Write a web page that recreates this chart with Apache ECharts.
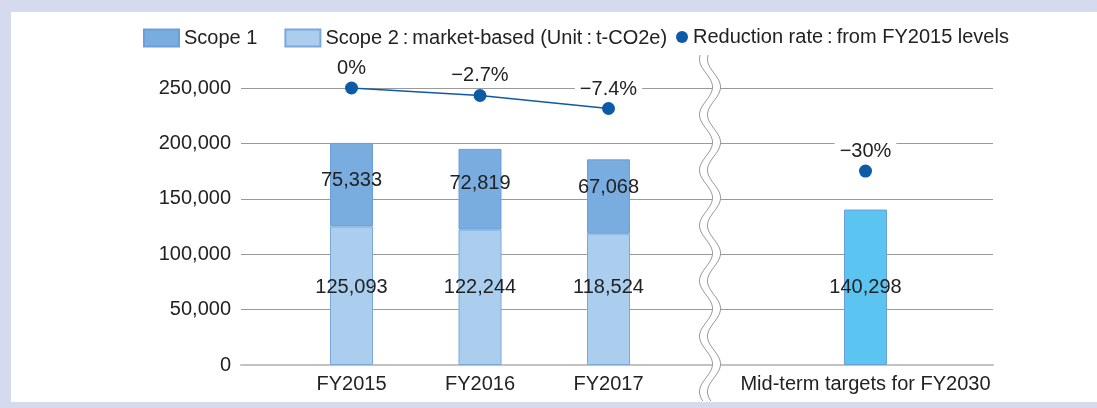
<!DOCTYPE html>
<html>
<head>
<meta charset="utf-8">
<script src="https://cdn.jsdelivr.net/npm/echarts@6/dist/echarts.min.js"></script>
<style>
  html, body { margin: 0; padding: 0; background: #d5daee; }
  #panel { position: absolute; left: 11px; top: 12px; width: 1086px; height: 390px; background: #fff; }
  #chart { position: absolute; left: 0; top: 0; width: 1097px; height: 408px; }
</style>
</head>
<body>
<div id="panel"></div>
<div id="chart"></div>
<script>
// categories and values
const categories = ["FY2015", "FY2016", "FY2017", "", "Mid-term targets for FY2030"];
const scope1 = [75333, 72819, 67068, null, null];
const scope2 = [125093, 122244, 118524, null, null];
const target = [null, null, null, null, 140298];
const reductionRate = [0, -2.7, -7.4, null, -30];
const yTicks = [0, 50000, 100000, 150000, 200000, 250000];

const rateName = "Reduction rate\u2009:\u2009from FY2015 levels";
const scope2Text = "Scope 2\u2009:\u2009market-based (Unit\u2009:\u2009t-CO2e)";
const font = "'Liberation Sans', Arial, sans-serif";
const textColor = "#222";
const commas = v => echarts.format.addCommas(v);

const chart = echarts.init(document.getElementById("chart"), null, { renderer: "canvas" });

// wavy break between FY2017 and FY2030
function wave(offset) {
  const pts = [];
  for (let y = 55; y <= 401; y += 1) {
    pts.push([710 + offset + 6.5 * Math.cos((2 * Math.PI * (y - 87)) / 55.4), y]);
  }
  return pts;
}
const waveL = wave(-4);
const waveR = wave(4);

chart.setOption({
  backgroundColor: "transparent",
  textStyle: { fontFamily: font, color: textColor },
  legend: [
    {
      data: ["Scope 1", "Scope 2"],
      left: 143,
      top: 28,
      padding: 0,
      icon: "rect",
      itemWidth: 35,
      itemHeight: 17,
      itemGap: 27,
      textStyle: { fontSize: 20, color: textColor, fontFamily: font },
      formatter: name => (name === "Scope 2" ? scope2Text : name),
      selectedMode: false
    },
    {
      data: [rateName],
      left: 676,
      top: 27,
      padding: 0,
      icon: "circle",
      itemWidth: 12,
      itemHeight: 12,
      textStyle: { fontSize: 20, color: textColor, fontFamily: font },
      selectedMode: false
    }
  ],
  grid: [
    { left: 241, right: 104, top: 88, bottom: 43 },
    { left: 287.25, width: 642.5, top: 88, bottom: 43 }
  ],
  xAxis: [
    {
      gridIndex: 0,
      type: "value",
      min: 0,
      max: 1,
      axisLine: { show: true, lineStyle: { color: "#c2c2c2", width: 2 } },
      axisTick: { show: false },
      axisLabel: { show: false },
      splitLine: { show: false }
    },
    {
      gridIndex: 1,
      type: "category",
      data: categories,
      axisLine: { show: false },
      axisTick: { show: false },
      axisLabel: { interval: 0, fontSize: 20, color: textColor, margin: 9, fontFamily: font }
    }
  ],
  yAxis: [
    {
      gridIndex: 0,
      type: "value",
      min: yTicks[0],
      max: yTicks[yTicks.length - 1],
      interval: yTicks[1] - yTicks[0],
      axisLine: { show: false },
      axisTick: { show: false },
      axisLabel: { fontSize: 20, color: textColor, margin: 10, formatter: commas, fontFamily: font },
      splitLine: { lineStyle: { color: "#9a9a9a", width: 1 } }
    },
    {
      gridIndex: 1,
      type: "value",
      min: yTicks[0],
      max: yTicks[yTicks.length - 1],
      show: false
    },
    {
      gridIndex: 1,
      type: "value",
      min: -100,
      max: 0,
      show: false
    }
  ],
  series: [
    {
      name: "Scope 2",
      type: "bar",
      xAxisIndex: 1,
      yAxisIndex: 1,
      stack: "total",
      barWidth: 43,
      data: scope2,
      itemStyle: { color: "#abcdee", borderColor: "#7aa8de", borderWidth: 1 },
      label: {
        show: true,
        position: "insideBottom",
        distance: 68,
        fontSize: 20,
        color: textColor,
        fontFamily: font,
        formatter: p => commas(p.value)
      }
    },
    {
      name: "Scope 1",
      type: "bar",
      xAxisIndex: 1,
      yAxisIndex: 1,
      stack: "total",
      barWidth: 43,
      data: scope1,
      itemStyle: { color: "#79acdf", borderColor: "#6b9fd8", borderWidth: 1 },
      label: {
        show: true,
        position: "insideBottom",
        distance: 36,
        fontSize: 20,
        color: textColor,
        fontFamily: font,
        formatter: p => commas(p.value)
      }
    },
    {
      name: "Target",
      type: "bar",
      xAxisIndex: 1,
      yAxisIndex: 1,
      stack: "total",
      barWidth: 43,
      data: target,
      itemStyle: { color: "#5bc4f1", borderColor: "#6a9fd8", borderWidth: 1 },
      label: {
        show: true,
        position: "insideBottom",
        distance: 68,
        fontSize: 20,
        color: textColor,
        fontFamily: font,
        formatter: p => commas(p.value)
      }
    },
    {
      name: rateName,
      type: "line",
      xAxisIndex: 1,
      yAxisIndex: 2,
      data: reductionRate,
      connectNulls: false,
      symbol: "circle",
      symbolSize: 13,
      showAllSymbol: true,
      z: 5,
      lineStyle: { color: "#0d5aa7", width: 1.3 },
      itemStyle: { color: "#0d5aa7" },
      label: {
        show: true,
        position: "top",
        distance: 3,
        fontSize: 20,
        color: textColor,
        fontFamily: font,
        backgroundColor: "#fff",
        padding: [0, 5],
        formatter: p => (p.value === 0 ? "0%" : "\u2212" + Math.abs(p.value) + "%")
      }
    }
  ],
  graphic: [
    {
      type: "polygon",
      z: 100,
      shape: { points: waveL.concat(waveR.slice().reverse()) },
      style: { fill: "#fff", stroke: null }
    },
    {
      type: "polyline",
      z: 101,
      shape: { points: waveL },
      style: { stroke: "#9a9a9a", lineWidth: 1, fill: null }
    },
    {
      type: "polyline",
      z: 101,
      shape: { points: waveR },
      style: { stroke: "#9a9a9a", lineWidth: 1, fill: null }
    }
  ]
});
</script>
</body>
</html>
